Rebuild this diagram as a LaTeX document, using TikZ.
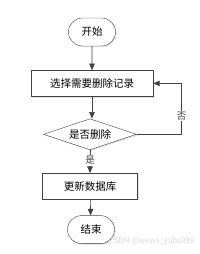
\documentclass[tikz,border=0pt]{standalone}
\usepackage{fontspec}
\setmainfont{Noto Sans CJK SC}
\usetikzlibrary{arrows.meta, positioning, shapes.geometric, shapes.misc, shadows, calc}
\definecolor{edge}{RGB}{64,64,64}
\tikzset{
  term/.style  = {rounded rectangle, draw=edge, fill=white, font=\fontsize{10.5}{12}\selectfont,
                  minimum width=51pt, minimum height=28pt, inner sep=2pt,
                  drop shadow={shadow xshift=1.2pt, shadow yshift=-1.2pt, fill=gray!45}},
  proc/.style  = {draw=edge, fill=white, font=\fontsize{10.5}{12}\selectfont,
                  minimum height=26pt, inner sep=2pt,
                  drop shadow={shadow xshift=1.2pt, shadow yshift=-1.2pt, fill=gray!45}},
  cond/.style  = {diamond, aspect=3, draw=edge, fill=white, font=\fontsize{10.5}{12}\selectfont,
                  minimum width=93pt, minimum height=31pt, inner sep=0pt,
                  drop shadow={shadow xshift=1.2pt, shadow yshift=-1.2pt, fill=gray!45}},
  fl/.style    = {-{Triangle[length=6.5pt, width=5.5pt]}, draw=edge, line width=0.6pt},
  lbl/.style   = {font=\fontsize{9.5}{11}\selectfont, text=edge},
}
\begin{document}
\begin{tikzpicture}[x=1pt, y=1pt, node distance=22pt]
  \useasboundingbox (0,0) rectangle (200,254);
  \node[term] (start) at (92,222) {开始};
  \node[proc, minimum width=122pt, below=24pt of start] (select) {选择需要删除记录};
  \node[cond, below=22pt of select.south, anchor=north, xshift=-2pt] (ask) {是否删除};
  \node[proc, minimum width=95pt, below=23pt of ask.south, anchor=north] (update) {更新数据库};
  \node[term, below=16pt of update, xshift=1pt] (stop) {结束};
  \coordinate (loop) at ($(ask.east)+(45,0)$);
  \draw[fl] (start) -- (select);
  \draw[fl] (select) -- (select.south |- ask.north);
  \draw[fl] (ask) -- node[lbl, fill=white, inner sep=1pt, pos=0.45] {是} (update);
  \draw[fl] (update) -- (stop);
  \draw[fl] (ask.east) -- (loop) -- node[lbl, fill=white, inner sep=1pt, pos=0.36] {否} (loop |- select.east) -- (select.east);
  \node[font=\fontsize{8}{9}\selectfont, text=gray!30, anchor=south east] (mark) at (198,5) {CSDN @wxwx\_jsjbs999};
\end{tikzpicture}
\end{document}
